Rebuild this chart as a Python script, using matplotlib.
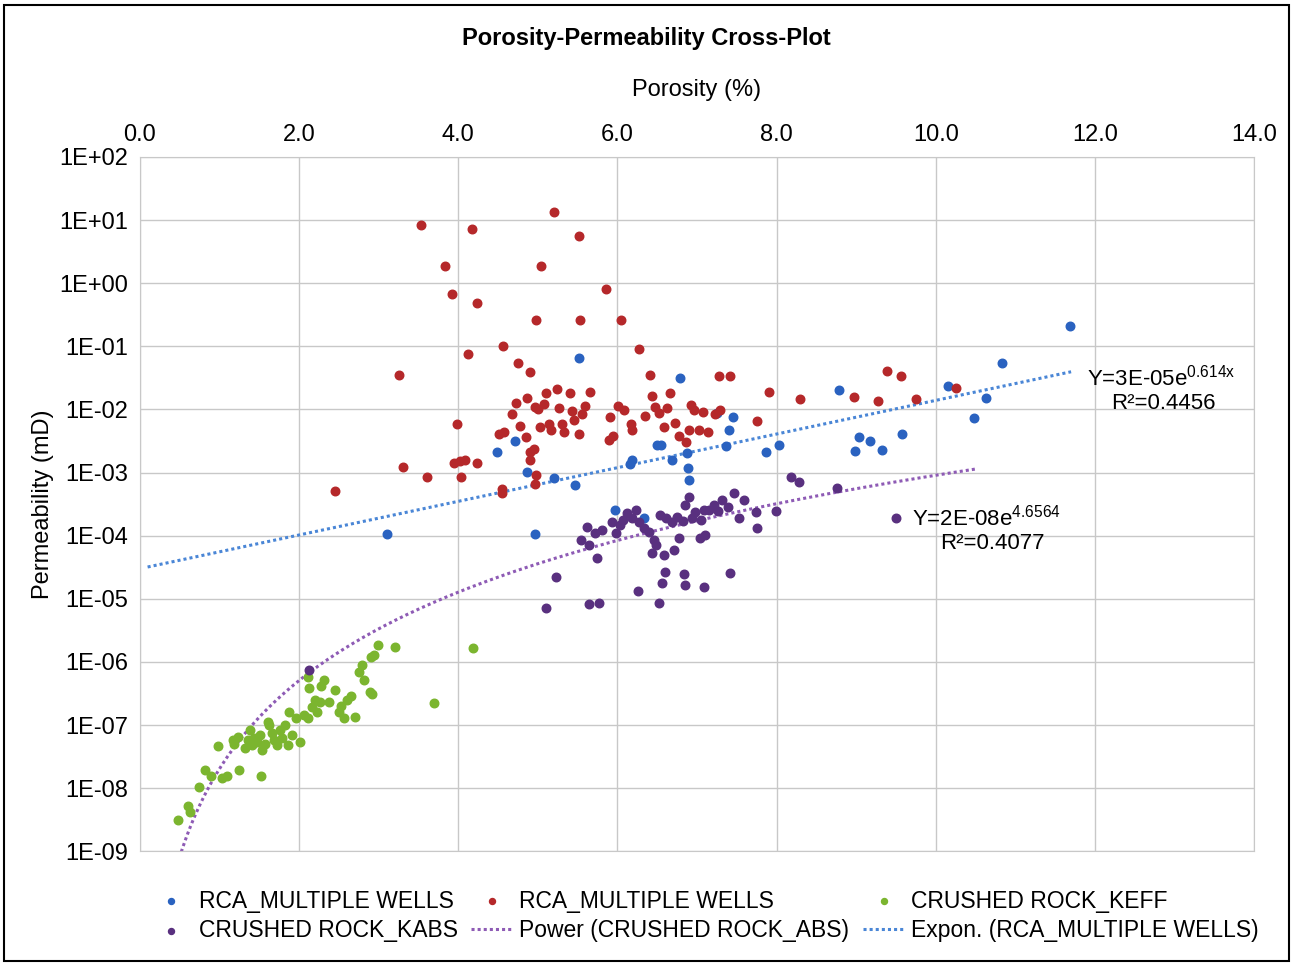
import numpy as np
import matplotlib
matplotlib.use("Agg")
import matplotlib.pyplot as plt
from matplotlib.ticker import FixedLocator, FuncFormatter

plt.rcParams['font.family'] = ['Liberation Sans', 'DejaVu Sans']
plt.rcParams['mathtext.fontset'] = 'custom'
plt.rcParams['mathtext.rm'] = 'Liberation Sans'
plt.rcParams['mathtext.it'] = 'Liberation Sans'

blue_x = [3.11,4.72,4.49,4.86,4.96,5.21,5.47,5.52,5.97,6.19,6.16,6.34,6.5,6.55,6.69,6.79,6.88,6.89,6.9,7.25,7.4,7.36,7.45,7.87,8.03,8.78,8.98,9.03,9.17,9.33,9.57,10.15,10.48,10.63,10.83,11.68]
blue_ly = [-3.97,-2.5,-2.68,-2.99,-3.97,-3.09,-3.2,-1.19,-3.59,-2.8,-2.87,-3.72,-2.56,-2.56,-2.8,-1.5,-2.69,-2.93,-3.12,-2.06,-2.33,-2.58,-2.12,-2.68,-2.56,-1.69,-2.66,-2.44,-2.5,-2.64,-2.39,-1.63,-2.14,-1.82,-1.26,-0.68]

red_x = [3.53,4.18,5.21,5.52,3.83,3.92,5.04,4.24,5.86,4.98,5.53,6.05,6.27,4.57,4.13,3.26,4.75,4.9,3.99,3.31,3.61,3.95,4.02,4.09,4.04,4.24,2.46,4.55,4.55,4.96,4.98,4.9,4.95,4.9,4.52,4.58,4.68,4.73,4.78,4.85,4.86,4.96,5.03,5.08,5.11,5.14,5.17,5.24,5.27,5.3,5.33,5.4,5.43,5.46,5.52,5.56,5.66,5.89,5.91,5.95,6.01,6.08,6.17,6.19,6.41,6.44,6.47,6.52,6.59,6.62,6.66,6.73,6.78,6.86,6.9,6.93,6.96,7.03,7.08,7.14,7.23,7.29,7.28,7.41,7.75,7.9,8.29,8.97,9.28,9.39,9.56,9.75,10.25,5.0,5.6,6.35]
red_ly = [0.92,0.86,1.13,0.75,0.27,-0.17,0.27,-0.31,-0.09,-0.58,-0.58,-0.58,-1.04,-1.0,-1.12,-1.45,-1.26,-1.41,-2.23,-2.91,-3.07,-2.85,-2.82,-2.8,-3.07,-2.85,-3.29,-3.26,-3.32,-3.18,-3.04,-2.8,-2.62,-2.68,-2.39,-2.36,-2.07,-1.9,-2.26,-2.44,-1.82,-1.96,-2.28,-1.91,-1.74,-2.23,-2.33,-1.68,-1.98,-2.23,-2.36,-1.74,-2.03,-2.17,-2.39,-2.07,-1.73,-2.48,-2.12,-2.42,-1.95,-2.01,-2.23,-2.33,-1.45,-1.79,-1.96,-2.06,-2.28,-1.98,-1.74,-2.22,-2.42,-2.52,-2.33,-1.93,-2.01,-2.33,-2.04,-2.36,-2.07,-2.01,-1.47,-1.47,-2.18,-1.72,-1.84,-1.8,-1.87,-1.39,-1.47,-1.84,-1.66,-2.0,-1.95,-2.1]

purple_x = [2.13,5.11,5.23,5.55,5.62,5.65,5.72,5.75,5.65,5.77,5.81,5.93,5.98,6.04,6.07,6.12,6.19,6.24,6.27,6.34,6.4,6.46,6.26,6.44,6.49,6.59,6.6,6.56,6.52,6.84,6.85,7.09,6.54,6.61,6.69,6.75,6.83,6.85,6.9,6.94,6.98,7.05,7.09,7.15,7.21,7.26,7.31,7.39,7.47,7.59,7.53,7.75,7.74,7.42,7.1,7.04,6.78,6.71,8.18,8.28,8.76,9.5,7.99]
purple_ly = [-6.13,-5.15,-4.66,-4.07,-3.86,-4.15,-3.96,-4.35,-5.08,-5.07,-3.91,-3.78,-3.96,-3.83,-3.75,-3.64,-3.72,-3.59,-3.78,-3.88,-3.94,-4.07,-4.88,-4.28,-4.15,-4.31,-4.58,-4.75,-5.07,-4.61,-4.78,-4.81,-3.67,-3.72,-3.78,-3.71,-3.77,-3.52,-3.39,-3.72,-3.63,-3.75,-3.59,-3.59,-3.52,-3.61,-3.44,-3.55,-3.32,-3.44,-3.72,-3.88,-3.63,-4.59,-3.99,-4.04,-4.04,-4.23,-3.07,-3.15,-3.25,-3.72,-3.61]

green_x = [0.48,0.61,0.63,0.75,0.82,0.9,0.98,1.04,1.1,1.17,1.19,1.23,1.25,1.32,1.36,1.38,1.41,1.44,1.48,1.51,1.53,1.54,1.57,1.61,1.63,1.66,1.69,1.73,1.76,1.79,1.82,1.86,1.88,1.91,1.96,2.01,2.07,2.11,2.16,2.2,2.23,2.26,2.28,2.32,2.38,2.45,2.51,2.57,2.53,2.61,2.66,2.7,2.76,2.79,2.82,2.89,2.91,2.92,2.95,2.99,3.21,3.7,4.19,2.11,2.13]
green_ly = [-8.51,-8.29,-8.38,-7.98,-7.71,-7.81,-7.33,-7.84,-7.81,-7.24,-7.3,-7.19,-7.71,-7.37,-7.24,-7.08,-7.32,-7.21,-7.27,-7.16,-7.81,-7.4,-7.3,-6.95,-7.0,-7.13,-7.24,-7.32,-7.08,-7.21,-7.0,-7.32,-6.8,-7.16,-6.89,-7.27,-6.84,-6.89,-6.72,-6.61,-6.8,-6.64,-6.38,-6.29,-6.64,-6.45,-6.8,-6.89,-6.7,-6.61,-6.54,-6.87,-6.16,-6.05,-6.29,-6.48,-5.92,-6.51,-5.89,-5.73,-5.77,-6.65,-5.78,-6.24,-6.41]

exp_a, exp_b = 3e-5, 0.614
pow_a, pow_b = 2e-8, 4.6564

C_BLUE = '#2a62c0'; C_RED = '#b5282a'; C_GREEN = '#7bb52f'; C_PURPLE = '#59307f'

fig = plt.figure(figsize=(12.93, 9.63), dpi=100)
ax = fig.add_axes([0.108, 0.116, 0.862, 0.721])
fig.patches.append(plt.Rectangle((0.003, 0.002), 0.994, 0.993, transform=fig.transFigure,
                                 fill=False, edgecolor='black', linewidth=1.5))

ms = 38
h_blue = ax.scatter(blue_x, 10**np.array(blue_ly), s=ms, color=C_BLUE, zorder=3)
h_red = ax.scatter(red_x, 10**np.array(red_ly), s=ms, color=C_RED, zorder=3)
h_green = ax.scatter(green_x, 10**np.array(green_ly), s=ms, color=C_GREEN, zorder=3)
h_purple = ax.scatter(purple_x, 10**np.array(purple_ly), s=ms, color=C_PURPLE, zorder=3)

xe = np.linspace(0.1, 11.7, 200)
h_exp, = ax.plot(xe, exp_a*np.exp(exp_b*xe), ls=(0, (1, 1)), color='#4a86d6', lw=2.2, zorder=2)
xp = np.linspace(0.5, 10.5, 300)
h_pow, = ax.plot(xp, pow_a*xp**pow_b, ls=(0, (1, 1)), color='#8e5bb5', lw=2.2, zorder=2)

ax.set_yscale('log')
ax.set_ylim(1e-9, 1e2)
ax.set_xlim(0, 14)
ax.xaxis.tick_top()
ax.xaxis.set_label_position('top')
ax.set_xticks(np.arange(0, 15, 2))
ax.set_xticklabels([f"{v:.1f}" for v in np.arange(0, 15, 2)])
ax.yaxis.set_major_locator(FixedLocator([10.0**k for k in range(-9, 3)]))
ax.yaxis.set_minor_locator(FixedLocator([]))
ax.yaxis.set_major_formatter(FuncFormatter(lambda v, p: "1E%+03d" % int(round(np.log10(v)))))
ax.tick_params(labelsize=17, length=0, pad=8)
ax.grid(True, color='#c8c8c8', lw=1)
for s in ax.spines.values():
    s.set_color('#c8c8c8')
ax.set_xlabel('Porosity (%)', fontsize=17, labelpad=20)
ax.set_ylabel('Permeability (mD)', fontsize=17)
fig.text(0.5, 0.96, 'Porosity-Permeability Cross-Plot', ha='center', va='center',
         fontsize=17, fontweight='bold')

ax.text(11.9, 10**-1.5, r'Y=3E-05e$^{\mathrm{0.614x}}$', fontsize=16, va='center')
ax.text(12.2, 10**-1.9, 'R²=0.4456', fontsize=16, va='center')
ax.text(9.7, 10**-3.72, r'Y=2E-08e$^{\mathrm{4.6564}}$', fontsize=16, va='center')
ax.text(10.05, 10**-4.12, 'R²=0.4077', fontsize=16, va='center')

fig.legend([h_blue, h_purple, h_red, h_pow, h_green, h_exp],
           ['RCA_MULTIPLE WELLS', 'CRUSHED ROCK_KABS', 'RCA_MULTIPLE WELLS',
            'Power (CRUSHED ROCK_ABS)', 'CRUSHED ROCK_KEFF', 'Expon. (RCA_MULTIPLE WELLS)'],
           loc='lower center', bbox_to_anchor=(0.545, 0.0), ncol=3, frameon=False,
           fontsize=16.5, handlelength=1.8, columnspacing=0.6, handletextpad=0.3,
           labelspacing=0.3, scatterpoints=1, markerscale=0.7)

fig.savefig('out.png', dpi=100)
